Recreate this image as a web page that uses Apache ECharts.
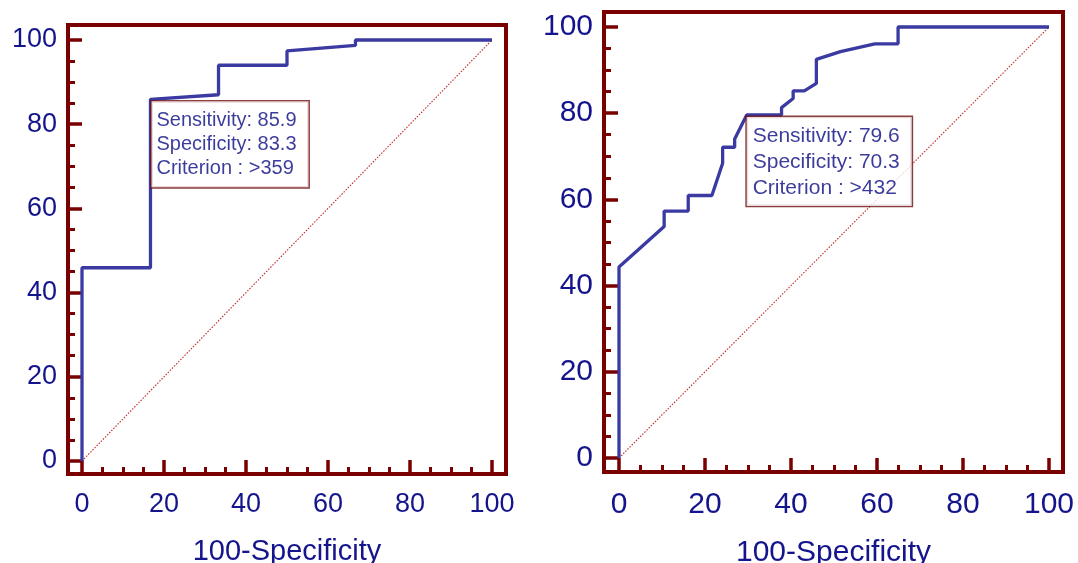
<!DOCTYPE html>
<html>
<head>
<meta charset="utf-8">
<script src="https://cdn.jsdelivr.net/npm/echarts@6/dist/echarts.min.js"></script>
<style>
html,body{margin:0;padding:0;background:#fff;}
#chart{width:1078px;height:563px;}
</style>
</head>
<body>
<div id="chart"></div>
<script>
// ---- data ----
const axisName = '100-Specificity';
const majorTicks = [0, 20, 40, 60, 80, 100];
const minorTicks = [5, 10, 15, 25, 30, 35, 45, 50, 55, 65, 70, 75, 85, 90, 95];
const leftFPR  = [0, 0, 16.7, 16.7, 33.3, 33.3, 50, 50, 66.7, 66.7, 100];
const leftSens = [0, 45.9, 45.9, 85.9, 87.0, 94.0, 94.0, 97.4, 98.7, 100, 100];
const rightFPR  = [0, 0, 10.5, 10.5, 16.1, 16.1, 21.6, 24.1, 24.1, 26.9, 26.9, 29.7, 37.8, 37.8, 40.5, 40.5, 43.1, 45.9, 45.9, 51.5, 59.5, 64.9, 64.9, 100];
const rightSens = [0, 44.3, 53.7, 57.3, 57.3, 60.9, 60.9, 68.4, 72.1, 72.1, 74.0, 79.6, 79.6, 81.3, 83.4, 85.2, 85.2, 86.9, 92.5, 94.3, 96.1, 96.1, 100, 100];
const diagX = [0, 100];
const diagY = [0, 100];
const leftCut  = {sens: 85.9, spec: 83.3, crit: '>359'};
const rightCut = {sens: 79.6, spec: 70.3, crit: '>432'};

// ---- styles ----
const BORDER = '#7a0000';
const CURVE = '#3a3aa2';
const TEXT = '#14148c';
const NOTE_TEXT = '#0a0a82';
const FONT = '"Liberation Sans", Arial, sans-serif';

function pairs(xs, ys){ return xs.map((x,i)=>[x, ys[i]]); }

function baseAxis(grid, min, max, pos){
  return {
    type:'value', gridIndex:grid, min:min, max:max, position:pos,
    axisLine:{show:false, onZero:false},
    splitLine:{show:false}
  };
}
function xMajor(grid, min, max, fs, nfs, margin, nameGap){
  return Object.assign(baseAxis(grid, min, max, 'bottom'), {
    axisTick:{show:true, inside:true, length:14, customValues:majorTicks, lineStyle:{color:BORDER, width:3.5}},
    axisLabel:{color:TEXT, fontSize:fs, fontFamily:FONT, margin:margin, customValues:majorTicks},
    name:axisName, nameLocation:'middle', nameGap:nameGap,
    nameTextStyle:{color:TEXT, fontSize:nfs, fontFamily:FONT}
  });
}
function xMinor(grid, min, max){
  return Object.assign(baseAxis(grid, min, max, 'bottom'), {
    axisTick:{show:true, inside:true, length:7, customValues:minorTicks, lineStyle:{color:BORDER, width:3}},
    axisLabel:{show:false}
  });
}
function yMajor(grid, min, max, fs, margin){
  return Object.assign(baseAxis(grid, min, max, 'left'), {
    axisTick:{show:true, inside:true, length:14, customValues:majorTicks, lineStyle:{color:BORDER, width:3.5}},
    axisLabel:{color:TEXT, fontSize:fs, fontFamily:FONT, margin:margin, customValues:majorTicks}
  });
}
function yMinor(grid, min, max){
  return Object.assign(baseAxis(grid, min, max, 'left'), {
    axisTick:{show:true, inside:true, length:7, customValues:minorTicks, lineStyle:{color:BORDER, width:3}},
    axisLabel:{show:false}
  });
}
function annot(gi, cut, fs, lh, pad, off){
  return {
    type:'scatter', xAxisIndex:gi, yAxisIndex:gi, symbolSize:0, z:10,
    data:[[100 - cut.spec, cut.sens]],
    label:{
      show:true, position:off, align:'left', verticalAlign:'top',
      formatter:'Sensitivity: ' + cut.sens.toFixed(1) + '\nSpecificity: ' + cut.spec.toFixed(1) + '\nCriterion : ' + cut.crit,
      color:NOTE_TEXT, fontSize:fs, lineHeight:lh, fontFamily:FONT,
      backgroundColor:'#fff', borderColor:'#6e0e0e', borderWidth:1.4, padding:pad
    },
    silent:true
  };
}
function diag(gi){
  return {type:'line', xAxisIndex:gi, yAxisIndex:gi, data:pairs(diagX, diagY), symbol:'none', silent:true,
          lineStyle:{color:'#c02828', width:1.1, type:[1.5, 1.5]}};
}
function curve(gi, xs, ys){
  return {type:'line', xAxisIndex:gi, yAxisIndex:gi, data:pairs(xs, ys), symbol:'none', silent:true,
          lineStyle:{color:CURVE, width:3.3}};
}

const chart = echarts.init(document.getElementById('chart'), null, {renderer:'canvas'});
chart.setOption({
  animation:false,
  backgroundColor:'#fff',
  grid:[
    {left:68, top:25, width:438, height:449, show:true, borderColor:BORDER, borderWidth:4, backgroundColor:'transparent', outerBoundsMode:'none', containLabel:false},
    {left:604, top:12, width:459, height:460, show:true, borderColor:BORDER, borderWidth:4, backgroundColor:'transparent', outerBoundsMode:'none', containLabel:false}
  ],
  xAxis:[
    xMajor(0, -3.415, 103.415, 27, 29, 17, 63),
    xMajor(1, -3.488, 103.256, 30, 30, 18, 66),
    xMinor(0, -3.415, 103.415),
    xMinor(1, -3.488, 103.256)
  ],
  yAxis:[
    yMajor(0, -3.088, 103.563, 27, 11),
    yMajor(1, -3.248, 103.48, 30, 11),
    yMinor(0, -3.088, 103.563),
    yMinor(1, -3.248, 103.48)
  ],
  series:[
    diag(0),
    curve(0, leftFPR, leftSens),
    annot(0, leftCut, 20, 24, [7, 12, 7, 5], [1, 2]),
    diag(1),
    curve(1, rightFPR, rightSens),
    annot(1, rightCut, 21, 26, [6, 12, 5, 6], [0, 2])
  ]
});
</script>
</body>
</html>
